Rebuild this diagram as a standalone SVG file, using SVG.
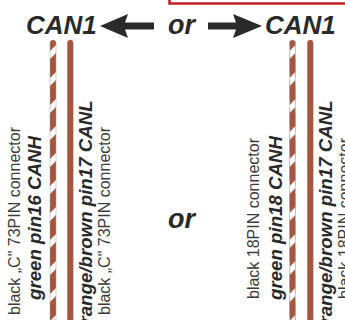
<svg xmlns="http://www.w3.org/2000/svg" width="345" height="320" viewBox="0 0 345 320">
<defs>
<pattern id="stripe" patternUnits="userSpaceOnUse" width="6" height="27" patternTransform="translate(50,42)">
<rect width="6" height="27" fill="#a5563c"/>
<polygon points="0,9 6,3 6,11 0,17" fill="#ffffff"/>
</pattern>
<style>
text{font-family:"Liberation Sans",Arial,sans-serif;fill:#2a2a2a}
.h{font-size:26px;font-weight:bold;font-style:italic}
.o{font-size:27px;font-weight:bold;font-style:italic}
.b{font-size:18.700px;font-weight:bold;font-style:italic}
.n{font-size:16px;fill:#3c3c3c}
.solid{fill:#a5563c;stroke:#8a6a5c;stroke-width:.5}
.striped{fill:url(#stripe);stroke:#a0a0a0;stroke-width:.5}
</style>
</defs>
<rect width="345" height="320" fill="#ffffff"/>
<g id="red-box"><path d="M169.500 0V3.500H345" fill="none" stroke="#c02026" stroke-width="2.500"/></g>
<g id="left-can">
<text class="h" x="26" y="34">CAN1</text>
</g>
<g id="right-can">
<text class="h" x="265" y="34">CAN1</text>
</g>
<g id="or-top"><text class="o" x="168" y="34">or</text></g>
<g id="or-middle"><text class="o" x="168" y="228">or</text></g>
<g id="connectors">
<polygon points="100,26 128,14 125,22.500 154,22.500 154,29.500 125,29.500 128,38" fill="#2a2a2a"/>
<polygon points="262,26 233,14 236,22.500 208,22.500 208,29.500 236,29.500 233,38" fill="#2a2a2a"/>
<path class="striped" d="M50 320V43q0-3 3-3t3 3V320z"/>
<path class="solid" d="M67.500 320V43q0-3 2.800-3t2.800 3V320z"/>
<g transform="translate(239.500 0)"><path class="striped" d="M50 320V43q0-3 3-3t3 3V320z"/></g>
<path class="solid" d="M307.500 320V43q0-3 2.800-3t2.800 3V320z"/>
</g>
<g id="labels-left">
<text class="n" transform="translate(20 315) rotate(-90)">black „C" 73PIN connector</text>
<text class="b" transform="translate(41 300) rotate(-90)">green pin16 CANH</text>
<text class="b" transform="translate(92 335) rotate(-90)">orange/brown pin17 CANL</text>
<text class="n" transform="translate(110 315) rotate(-90)">black „C" 73PIN connector</text>
</g>
<g id="labels-right">
<text class="n" transform="translate(259 299) rotate(-90)">black 18PIN connector</text>
<text class="b" transform="translate(282 300) rotate(-90)">green pin18 CANH</text>
<text class="b" transform="translate(332 335) rotate(-90)">orange/brown pin17 CANL</text>
<text class="n" transform="translate(350 299) rotate(-90)">black 18PIN connector</text>
</g>
</svg>
